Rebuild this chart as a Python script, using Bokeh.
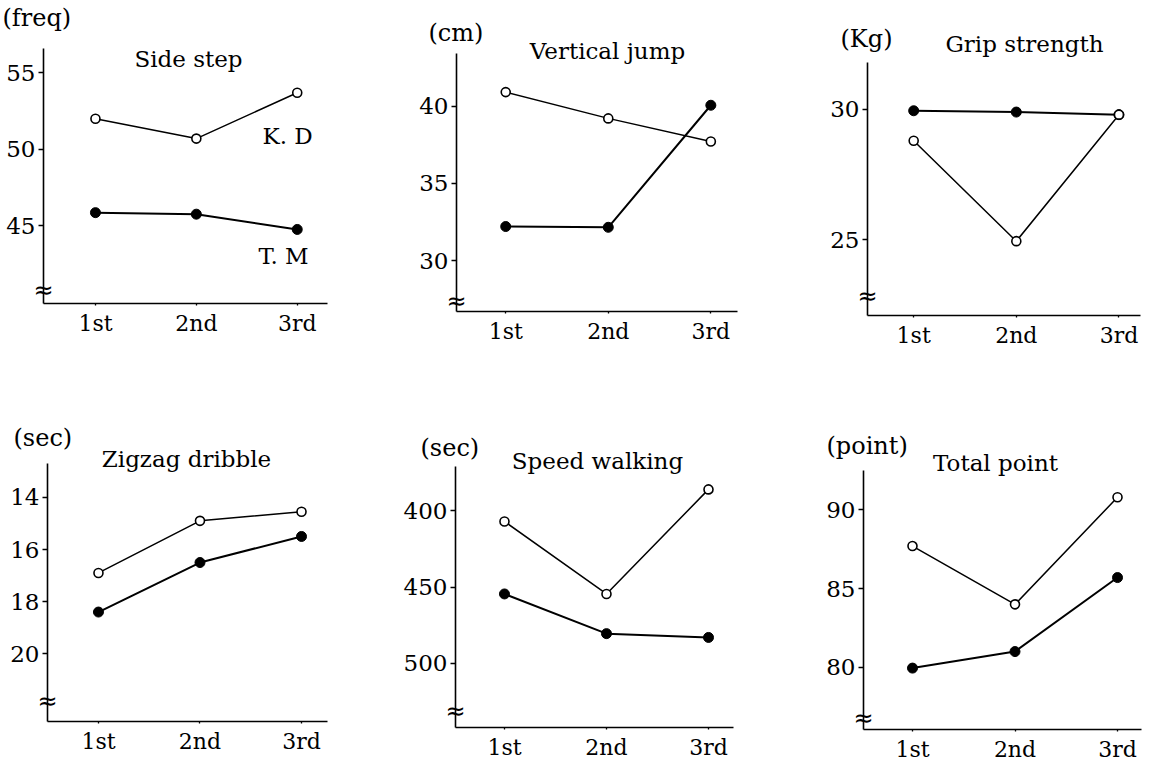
from bokeh.plotting import figure
from bokeh.layouts import row, column
from bokeh.models import Range1d, FixedTicker, Label, ColumnDataSource, LinearAxis
from bokeh.embed import file_html
from bokeh.resources import INLINE

# ---------------- data ----------------
sessions = ["1st", "2nd", "3rd"]
session_x = [1, 2, 3]

side_kd = [52.0, 50.7, 53.7]
side_tm = [45.85, 45.75, 44.75]
jump_kd = [40.9, 39.2, 37.7]
jump_tm = [32.2, 32.15, 40.05]
grip_kd = [28.8, 24.95, 29.8]
grip_tm = [29.95, 29.9, 29.8]
zigzag_kd = [16.9, 14.9, 14.55]
zigzag_tm = [18.4, 16.5, 15.5]
walk_kd = [407, 454.5, 386]
walk_tm = [454.5, 480.5, 483]
total_kd = [87.7, 84.0, 90.8]
total_tm = [79.95, 81.0, 85.7]

titles = ["Side step", "Vertical jump", "Grip strength",
          "Zigzag dribble", "Speed walking", "Total point"]
units = ["(freq)", "(cm)", "(Kg)", "(sec)", "(sec)", "(point)"]
y_ticks = [[45, 50, 55], [30, 35, 40], [25, 30], [14, 16, 18, 20],
           [400, 450, 500], [80, 85, 90]]
kd_series = [side_kd, jump_kd, grip_kd, zigzag_kd, walk_kd, total_kd]
tm_series = [side_tm, jump_tm, grip_tm, zigzag_tm, walk_tm, total_tm]
name_kd = "K. D"
name_tm = "T. M"

# ---------------- layout (page pixels) ----------------
FONT = "DejaVu Serif"
panels = [
    # box: figure (x0,y0,w,h); ax: axis box in page px (left,right,top,bottom)
    # xv: x values at axis left/right ; yv: y values at axis bottom/top
    dict(box=(0, 0, 385, 363), ax=(43, 327, 48, 303), xv=(0.485, 3.3), yv=(39.9, 56.6),
         unit=(2, 17), title=(188, 58), brk=(43, 289)),
    dict(box=(385, 0, 380, 363), ax=(456, 737, 53, 311), xv=(0.52, 3.26), yv=(26.7, 43.4),
         unit=(428, 32), title=(607, 50), brk=(456, 300)),
    dict(box=(765, 0, 385, 363), ax=(867, 1140, 62, 315), xv=(0.55, 3.21), yv=(22.1, 31.8),
         unit=(840, 38), title=(1024, 43), brk=(867, 295)),
    dict(box=(0, 363, 385, 401), ax=(47, 327, 463, 721), xv=(0.498, 3.256), yv=(22.6, 12.7),
         unit=(13, 437), title=(186, 458), brk=(47, 700)),
    dict(box=(385, 363, 380, 401), ax=(455, 733, 466, 727), xv=(0.52, 3.245), yv=(542, 371),
         unit=(420, 447), title=(597, 460), brk=(455, 710)),
    dict(box=(765, 363, 385, 401), ax=(863, 1141, 470, 729), xv=(0.522, 3.234), yv=(76.05, 92.5),
         unit=(826, 445), title=(995, 462), brk=(863, 717)),
]


def geometry(pn):
    x0, y0, w, h = pn["box"]
    ax0, ax1, ay0, ay1 = pn["ax"]
    xl, xr = pn["xv"]
    yb, yt = pn["yv"]
    sx = (xr - xl) / (ax1 - ax0)
    sy = (yt - yb) / (ay1 - ay0)
    xs = xl - (ax0 - x0) * sx
    xe = xr + (x0 + w - ax1) * sx
    ys = yb - (y0 + h - ay1) * sy
    ye = yt + (ay0 - y0) * sy

    def to_data(px, py):
        return xl + (px - ax0) * sx, yb + (ay1 - py) * sy
    return (xs, xe), (ys, ye), to_data


figs = []
for i, pn in enumerate(panels):
    x0, y0, w, h = pn["box"]
    (xs, xe), (ys, ye), to_data = geometry(pn)
    xl, xr = pn["xv"]
    yb, yt = pn["yv"]
    p = figure(width=w, height=h, output_backend="svg", toolbar_location=None,
               x_range=Range1d(xs, xe), y_range=Range1d(ys, ye),
               x_axis_location=None, y_axis_location=None,
               min_border_left=0, min_border_right=0,
               min_border_top=0, min_border_bottom=0)
    p.outline_line_color = None
    p.background_fill_color = "white"
    p.border_fill_color = "white"
    p.xgrid.grid_line_color = None
    p.ygrid.grid_line_color = None

    xaxis = LinearAxis(fixed_location=yb, bounds=(xl, xr),
                       ticker=FixedTicker(ticks=session_x),
                       major_label_overrides={x: s for x, s in zip(session_x, sessions)})
    yaxis = LinearAxis(fixed_location=xl, bounds=(min(yb, yt), max(yb, yt)),
                       ticker=FixedTicker(ticks=y_ticks[i]))
    for ax in (xaxis, yaxis):
        ax.axis_line_color = "black"
        ax.axis_line_width = 1.6
        ax.major_tick_line_color = "black"
        ax.major_tick_line_width = 1.3
        ax.minor_tick_line_color = None
        ax.major_tick_in = 0
        ax.major_label_text_font = FONT
        ax.major_label_text_color = "black"
    xaxis.major_tick_out = 2
    xaxis.major_label_standoff = 5
    xaxis.major_label_text_font_size = "22px"
    yaxis.major_tick_out = 5
    yaxis.major_label_standoff = 3
    yaxis.major_label_text_font_size = "23px"
    p.add_layout(xaxis, "below")
    p.add_layout(yaxis, "left")

    src = ColumnDataSource(dict(x=session_x, kd=kd_series[i], tm=tm_series[i]))
    p.line("x", "tm", source=src, line_color="black", line_width=2.0)
    p.scatter("x", "tm", source=src, size=10, marker="circle",
              fill_color="black", line_color="black")
    p.line("x", "kd", source=src, line_color="black", line_width=1.5)
    p.scatter("x", "kd", source=src, size=9, marker="circle",
              fill_color="white", line_color="black", line_width=1.6)

    ux, uy = to_data(*pn["unit"])
    p.add_layout(Label(x=ux, y=uy, text=units[i], text_font=FONT, text_font_size="24px",
                       text_align="left", text_baseline="middle", text_color="black"))
    tx, ty = to_data(*pn["title"])
    p.add_layout(Label(x=tx, y=ty, text=titles[i], text_font=FONT, text_font_size="23px",
                       text_align="center", text_baseline="middle", text_color="black"))
    bx, by = to_data(*pn["brk"])
    p.add_layout(Label(x=bx, y=by, text="≈", text_font="DejaVu Sans", text_font_size="24px",
                       text_align="center", text_baseline="middle", text_color="black"))
    if i == 0:
        kx, ky = to_data(262, 135)
        p.add_layout(Label(x=kx, y=ky, text=name_kd, text_font=FONT, text_font_size="23px",
                           text_align="left", text_baseline="middle", text_color="black"))
        mx, my = to_data(258, 255)
        p.add_layout(Label(x=mx, y=my, text=name_tm, text_font=FONT, text_font_size="23px",
                           text_align="left", text_baseline="middle", text_color="black"))
    figs.append(p)

layout = column(row(*figs[:3], spacing=0), row(*figs[3:], spacing=0), spacing=0)
open("out.html", "w").write(file_html(layout, INLINE))
